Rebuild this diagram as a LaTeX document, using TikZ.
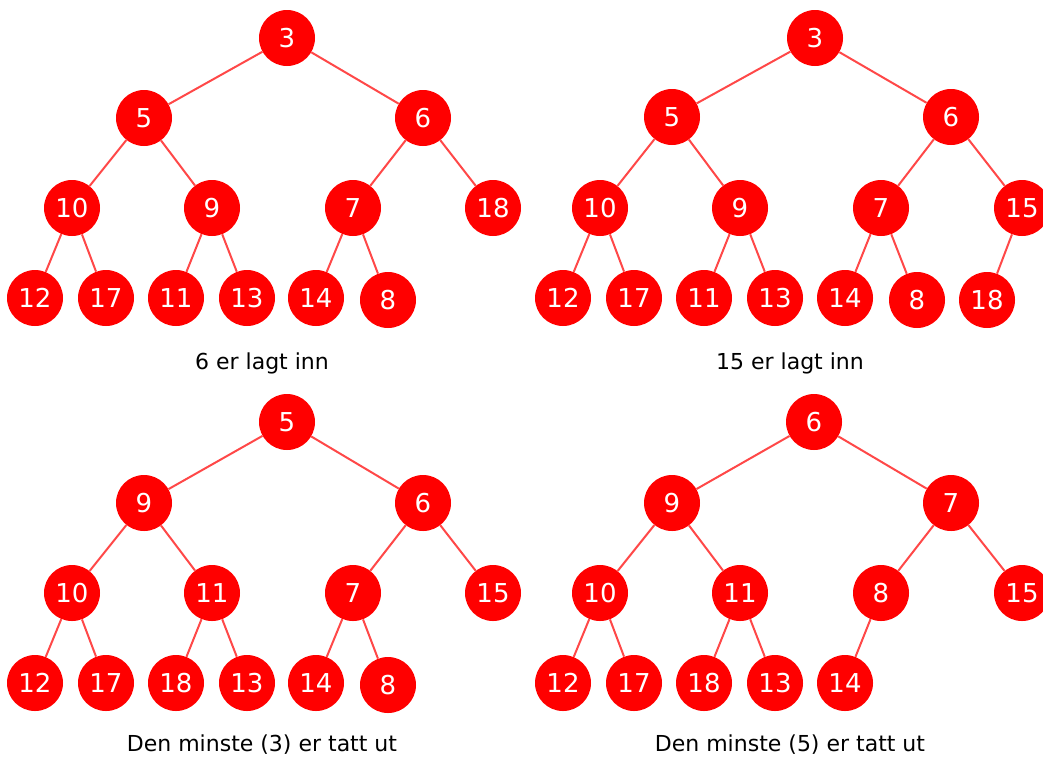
\documentclass[tikz,border=0pt]{standalone}
\usepackage{fontspec}
\setmainfont{DejaVu Sans}
\definecolor{nodered}{RGB}{255,0,0}
\definecolor{edgered}{RGB}{255,72,72}
\begin{document}
\begin{tikzpicture}[x=1pt,y=-1pt,
  hn/.style={circle,fill=nodered,draw=none,minimum size=56pt,inner sep=0pt,text=white,font=\fontsize{26}{26}\selectfont},
  he/.style={draw=edgered,line width=2pt},
  lbl/.style={font=\fontsize{22}{22}\selectfont,text=black}]
\useasboundingbox (0,0) rectangle (1043,756);
% ---------- Tree 1 ----------
\node[hn] (a1) at (287,38) {3};
\node[hn] (a2) at (144,118) {5};
\node[hn] (a3) at (423,118) {6};
\node[hn] (a4) at (72,208) {10};
\node[hn] (a5) at (212,208) {9};
\node[hn] (a6) at (353,208) {7};
\node[hn] (a7) at (493,208) {18};
\node[hn] (a8) at (35,298) {12};
\node[hn] (a9) at (106,298) {17};
\node[hn] (a10) at (176,298) {11};
\node[hn] (a11) at (247,298) {13};
\node[hn] (a12) at (316,298) {14};
\node[hn] (a13) at (388,300) {8};
\draw[he] (a1)--(a2) (a1)--(a3) (a2)--(a4) (a2)--(a5) (a3)--(a6) (a3)--(a7)
  (a4)--(a8) (a4)--(a9) (a5)--(a10) (a5)--(a11) (a6)--(a12) (a6)--(a13);
\node[lbl] (c1) at (262,363) {6 er lagt inn};
% ---------- Tree 2 ----------
\node[hn] (b1) at (815,38) {3};
\node[hn] (b2) at (672,117) {5};
\node[hn] (b3) at (951,117) {6};
\node[hn] (b4) at (600,208) {10};
\node[hn] (b5) at (740,208) {9};
\node[hn] (b6) at (881,208) {7};
\node[hn] (b7) at (1022,208) {15};
\node[hn] (b8) at (563,298) {12};
\node[hn] (b9) at (634,298) {17};
\node[hn] (b10) at (704,298) {11};
\node[hn] (b11) at (775,298) {13};
\node[hn] (b12) at (845,298) {14};
\node[hn] (b13) at (917,300) {8};
\node[hn] (b14) at (987,300) {18};
\draw[he] (b1)--(b2) (b1)--(b3) (b2)--(b4) (b2)--(b5) (b3)--(b6) (b3)--(b7)
  (b4)--(b8) (b4)--(b9) (b5)--(b10) (b5)--(b11) (b6)--(b12) (b6)--(b13) (b7)--(b14);
\node[lbl] (c2) at (790,363) {15 er lagt inn};
% ---------- Tree 3 ----------
\node[hn] (d1) at (287,422) {5};
\node[hn] (d2) at (144,503) {9};
\node[hn] (d3) at (423,503) {6};
\node[hn] (d4) at (72,593) {10};
\node[hn] (d5) at (212,593) {11};
\node[hn] (d6) at (353,593) {7};
\node[hn] (d7) at (493,593) {15};
\node[hn] (d8) at (35,683) {12};
\node[hn] (d9) at (106,683) {17};
\node[hn] (d10) at (176,683) {18};
\node[hn] (d11) at (247,683) {13};
\node[hn] (d12) at (316,683) {14};
\node[hn] (d13) at (388,685) {8};
\draw[he] (d1)--(d2) (d1)--(d3) (d2)--(d4) (d2)--(d5) (d3)--(d6) (d3)--(d7)
  (d4)--(d8) (d4)--(d9) (d5)--(d10) (d5)--(d11) (d6)--(d12) (d6)--(d13);
\node[lbl] (c3) at (262,745) {Den minste (3) er tatt ut};
% ---------- Tree 4 ----------
\node[hn] (e1) at (814,422) {6};
\node[hn] (e2) at (672,503) {9};
\node[hn] (e3) at (951,503) {7};
\node[hn] (e4) at (600,593) {10};
\node[hn] (e5) at (740,593) {11};
\node[hn] (e6) at (881,593) {8};
\node[hn] (e7) at (1022,593) {15};
\node[hn] (e8) at (563,683) {12};
\node[hn] (e9) at (634,683) {17};
\node[hn] (e10) at (704,683) {18};
\node[hn] (e11) at (775,683) {13};
\node[hn] (e12) at (845,683) {14};
\draw[he] (e1)--(e2) (e1)--(e3) (e2)--(e4) (e2)--(e5) (e3)--(e6) (e3)--(e7)
  (e4)--(e8) (e4)--(e9) (e5)--(e10) (e5)--(e11) (e6)--(e12);
\node[lbl] (c4) at (790,745) {Den minste (5) er tatt ut};
\end{tikzpicture}
\end{document}
